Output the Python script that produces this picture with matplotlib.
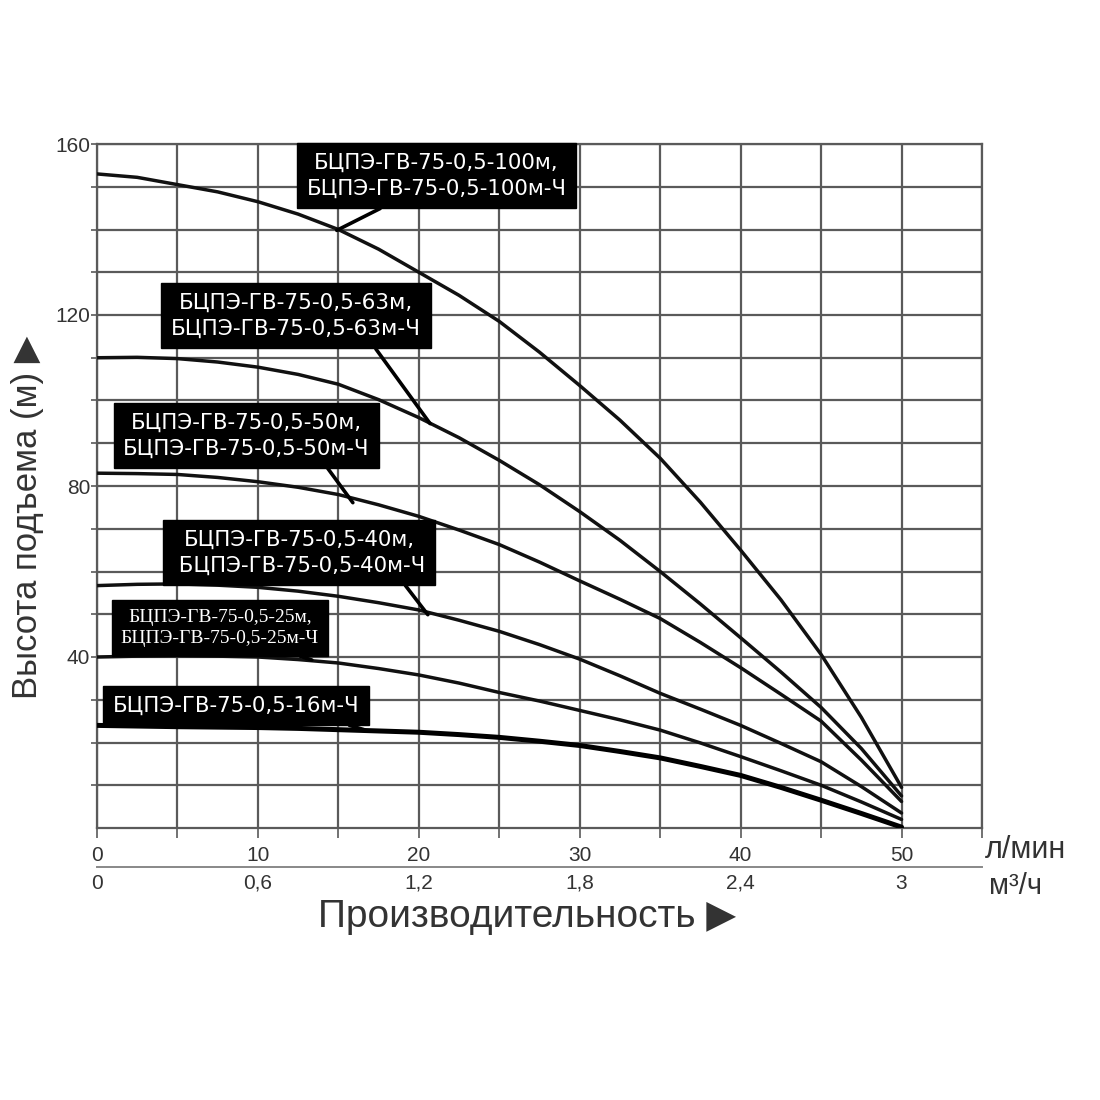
import matplotlib
matplotlib.use('Agg')
import matplotlib.pyplot as plt

# flow rate, l/min
flow = [0, 2.5, 5, 7.5, 10, 12.5, 15, 17.5, 20, 22.5, 25,
        27.5, 30, 32.5, 35, 37.5, 40, 42.5, 45, 47.5, 50]

# head, m
head_100 = [153, 152.2, 150.5, 148.8, 146.5, 143.6, 140, 135.4, 130, 124.6, 118.5,
            111.3, 103.5, 95.4, 86.5, 76.2, 65, 53.4, 40.6, 25.9, 9.5]
head_63 = [110, 110.1, 109.8, 109, 107.8, 106.1, 103.8, 100.2, 96, 91.3, 86,
           80.3, 74, 67.3, 60, 52.4, 44.5, 36.5, 28.2, 18.6, 7.5]
head_50 = [83, 82.9, 82.7, 82, 81, 79.7, 78, 75.6, 72.9, 69.7, 66.3,
           62.2, 57.8, 53.5, 49, 43.4, 37.5, 31.3, 25, 15.9, 6.2]
head_40 = [56.7, 57, 57.1, 56.8, 56.3, 55.4, 54.2, 52.7, 51, 48.6, 46,
           42.9, 39.5, 35.6, 31.5, 27.8, 24, 19.8, 15.5, 9.7, 3.5]
head_25 = [40, 40.2, 40.3, 40.2, 40, 39.4, 38.6, 37.3, 35.8, 33.9, 31.7,
           29.7, 27.5, 25.3, 22.9, 19.9, 16.7, 13.4, 10, 6.1, 2]
head_16 = [24, 23.85, 23.7, 23.6, 23.5, 23.3, 23, 22.7, 22.4, 21.85, 21.2,
           20.3, 19.3, 17.9, 16.4, 14.4, 12.3, 9.5, 6.5, 3.4, 0.2]

# pump names
names_100 = "БЦПЭ-ГВ-75-0,5-100м,\nБЦПЭ-ГВ-75-0,5-100м-Ч"
names_63 = "БЦПЭ-ГВ-75-0,5-63м,\nБЦПЭ-ГВ-75-0,5-63м-Ч"
names_50 = "БЦПЭ-ГВ-75-0,5-50м,\nБЦПЭ-ГВ-75-0,5-50м-Ч"
names_40 = "БЦПЭ-ГВ-75-0,5-40м,\n БЦПЭ-ГВ-75-0,5-40м-Ч"
names_25 = "БЦПЭ-ГВ-75-0,5-25м,\nБЦПЭ-ГВ-75-0,5-25м-Ч"
names_16 = "БЦПЭ-ГВ-75-0,5-16м-Ч"

# axis ticks
lpm_ticks = [0, 10, 20, 30, 40, 50]
m3h_ticks = [0, 0.6, 1.2, 1.8, 2.4, 3]
m3h_labels = ['0', '0,6', '1,2', '1,8', '2,4', '3']
head_ticks = [40, 80, 120, 160]

sans = ['Liberation Sans', 'DejaVu Sans']
grid_col = '#5a5a5a'
txt_col = '#333333'

fig = plt.figure(figsize=(11, 11), dpi=100)
ax = fig.add_axes([97 / 1100, 272 / 1100, 885 / 1100, 684 / 1100])

# curves
for h in [head_100, head_63, head_50, head_40, head_25]:
    ax.plot(flow, h, color='#111111', lw=2.5, solid_capstyle='round',
            solid_joinstyle='round', zorder=3)
ax.plot(flow, head_16, color='black', lw=3.6, solid_capstyle='round',
        solid_joinstyle='round', zorder=3)

ax.set_xlim(0, 55)
ax.set_ylim(0, 160)

# grid
ax.set_xticks(lpm_ticks)
ax.set_xticks(range(5, 56, 10), minor=True)
ax.set_yticks(head_ticks)
ax.set_yticks(range(10, 160, 10), minor=True)
ax.grid(which='both', color=grid_col, lw=1.6)
ax.set_axisbelow(True)
for s in ax.spines.values():
    s.set_color(grid_col)
    s.set_linewidth(1.6)
ax.tick_params(which='both', axis='x', length=7, color=grid_col, width=1.2,
               labelsize=15, labelcolor=txt_col, pad=6)
ax.tick_params(which='both', axis='y', length=4, color=grid_col, width=1.2,
               labelsize=15, labelcolor=txt_col, pad=1)
for lab in ax.get_xticklabels() + ax.get_yticklabels():
    lab.set_family(sans)

# second scale, m3/h
sec = ax.secondary_xaxis(-0.057, functions=(lambda q: q * 0.06, lambda q: q / 0.06))
sec.set_xticks(m3h_ticks, labels=m3h_labels)
sec.tick_params(length=0, pad=5, labelsize=15, labelcolor=txt_col)
sec.spines['bottom'].set_color('#888888')
sec.spines['bottom'].set_linewidth(1.4)
for lab in sec.get_xticklabels():
    lab.set_family(sans)

fig.text(985 / 1100, 1 - 850 / 1100, 'л/мин', fontsize=22, color=txt_col,
         family=sans, ha='left', va='center')
fig.text(989 / 1100, 1 - 886 / 1100, 'м³/ч', fontsize=21, color=txt_col,
         family=sans, ha='left', va='center')

# axis titles
fig.text(527 / 1100, 1 - 917 / 1100, 'Производительность ▶', fontsize=28,
         color=txt_col, family=sans, ha='center', va='center')
fig.text(28 / 1100, 1 - 517 / 1100, 'Высота подъема (м) ▶', fontsize=25,
         color=txt_col, family=sans, ha='center', va='center', rotation=90)

# labels with leader lines
box = dict(boxstyle='square,pad=0.45', fc='black', ec='black')
labels = [
    (names_100, (14.9, 139.8), (21.1, 152.6), 0.36, 'DejaVu Sans', 15.3),
    (names_63, (20.7, 94.6), (12.36, 119.8), 0.79, 'DejaVu Sans', 15.6),
    (names_50, (15.9, 76.1), (9.29, 91.8), 0.80, 'DejaVu Sans', 15.3),
    (names_40, (20.56, 49.9), (12.55, 64.4), 0.89, 'DejaVu Sans', 15.3),
    (names_25, (13.35, 39.3), (7.64, 46.8), 0.76, 'Liberation Serif', 14),
    (names_16, (16.6, 23.0), (8.66, 28.7), 0.82, 'DejaVu Sans', 15.3),
]
for txt, xy, xytext, rx, fam, fs in labels:
    ax.annotate(txt, xy=xy, xytext=xytext, ha='center', va='center',
                color='white', fontsize=fs, family=fam, linespacing=1.35,
                bbox=box, zorder=5,
                arrowprops=dict(arrowstyle='-', color='black', lw=2.6,
                                relpos=(rx, 0), shrinkA=0, shrinkB=0))

fig.savefig('out.png', dpi=100, facecolor='white')
